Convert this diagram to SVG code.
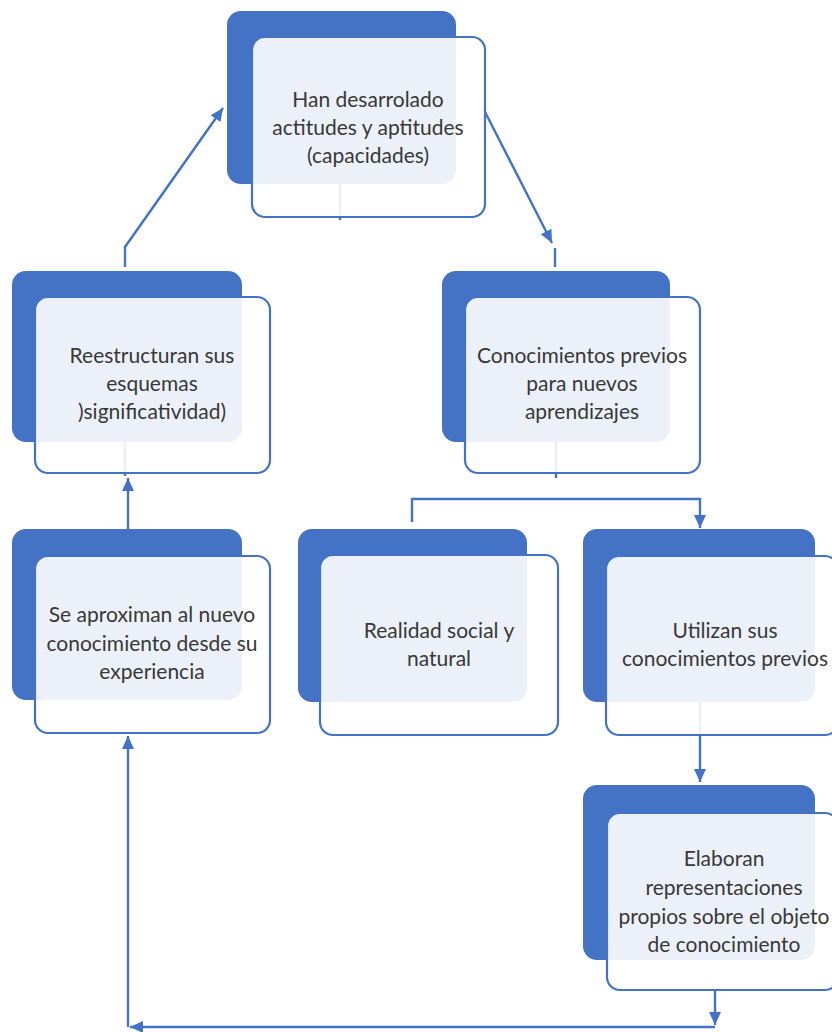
<svg xmlns="http://www.w3.org/2000/svg" width="832" height="1032" viewBox="0 0 832 1032">
<defs>
<style>
.back{fill:#4472c4;}
.front{fill:#ffffff;fill-opacity:0.9;stroke:#4472c4;stroke-width:2.2;}
.lbl{font-family:Lato,"Liberation Sans",sans-serif;font-size:21px;fill:#383838;text-anchor:middle;}
.con{fill:none;stroke:#4472c4;stroke-width:2.4;}
</style>
<marker id="ah" markerUnits="userSpaceOnUse" markerWidth="14" markerHeight="14" viewBox="0 0 14 14" refX="13" refY="7" orient="auto">
<path d="M0,1 L13,7 L0,13 Z" fill="#4472c4"/>
</marker>
</defs>
<rect width="832" height="1032" fill="#ffffff"/>
<g id="connectors">
<path class="con" d="M125,267 V247 L223,108" marker-end="url(#ah)"/>
<path class="con" d="M483,108 L552,243" marker-end="url(#ah)"/>
<path class="con" d="M555,248 V267"/>
<path class="con" d="M340,184 V220"/>
<path class="con" d="M125,441 V476"/>
<path class="con" d="M128,529 V478" marker-end="url(#ah)"/>
<path class="con" d="M556,442 V478"/>
<path class="con" d="M412,522 V499 H700 V528" marker-end="url(#ah)"/>
<path class="con" d="M700,702 V782" marker-end="url(#ah)"/>
<path class="con" d="M715,990 V1025" marker-end="url(#ah)"/>
<path class="con" d="M715,1027 H130" marker-end="url(#ah)"/>
<path class="con" d="M128,1027 V736" marker-end="url(#ah)"/>
</g>
<g id="node-capacidades">
<rect class="back" x="227" y="11" width="229" height="173" rx="14"/>
<rect class="front" x="252" y="37" width="233" height="180" rx="13"/>
<text class="lbl" x="368" y="107">Han desarrolado</text>
<text class="lbl" x="368" y="135">actitudes y aptitudes</text>
<text class="lbl" x="368" y="163">(capacidades)</text>
</g>
<g id="node-reestructuran">
<rect class="back" x="12" y="271" width="230" height="171" rx="14"/>
<rect class="front" x="35" y="297" width="235" height="176" rx="13"/>
<text class="lbl" x="152" y="363">Reestructuran sus</text>
<text class="lbl" x="152" y="391">esquemas</text>
<text class="lbl" x="152" y="419">)significatividad)</text>
</g>
<g id="node-conocimientos">
<rect class="back" x="442" y="271" width="228" height="171" rx="14"/>
<rect class="front" x="465" y="297" width="235" height="176" rx="13"/>
<text class="lbl" x="582" y="363">Conocimientos previos</text>
<text class="lbl" x="582" y="391">para nuevos</text>
<text class="lbl" x="582" y="419">aprendizajes</text>
</g>
<g id="node-aproximan">
<rect class="back" x="12" y="529" width="230" height="171" rx="14"/>
<rect class="front" x="35" y="556" width="235" height="177" rx="13"/>
<text class="lbl" x="152" y="622">Se aproximan al nuevo</text>
<text class="lbl" x="152" y="651">conocimiento desde su</text>
<text class="lbl" x="152" y="679">experiencia</text>
</g>
<g id="node-realidad">
<rect class="back" x="298" y="529" width="229" height="173" rx="14"/>
<rect class="front" x="320" y="555" width="238" height="180" rx="13"/>
<text class="lbl" x="439" y="638">Realidad social y</text>
<text class="lbl" x="439" y="666">natural</text>
</g>
<g id="node-utilizan">
<rect class="back" x="583" y="529" width="232" height="173" rx="14"/>
<rect class="front" x="606" y="556" width="232" height="179" rx="13"/>
<text class="lbl" x="725" y="638">Utilizan sus</text>
<text class="lbl" x="725" y="666">conocimientos previos</text>
</g>
<g id="node-elaboran">
<rect class="back" x="583" y="785" width="232" height="175" rx="14"/>
<rect class="front" x="607" y="813" width="231" height="177" rx="13"/>
<text class="lbl" x="724" y="866">Elaboran</text>
<text class="lbl" x="724" y="895">representaciones</text>
<text class="lbl" x="724" y="924">propios sobre el objeto</text>
<text class="lbl" x="724" y="952">de conocimiento</text>
</g>
</svg>
